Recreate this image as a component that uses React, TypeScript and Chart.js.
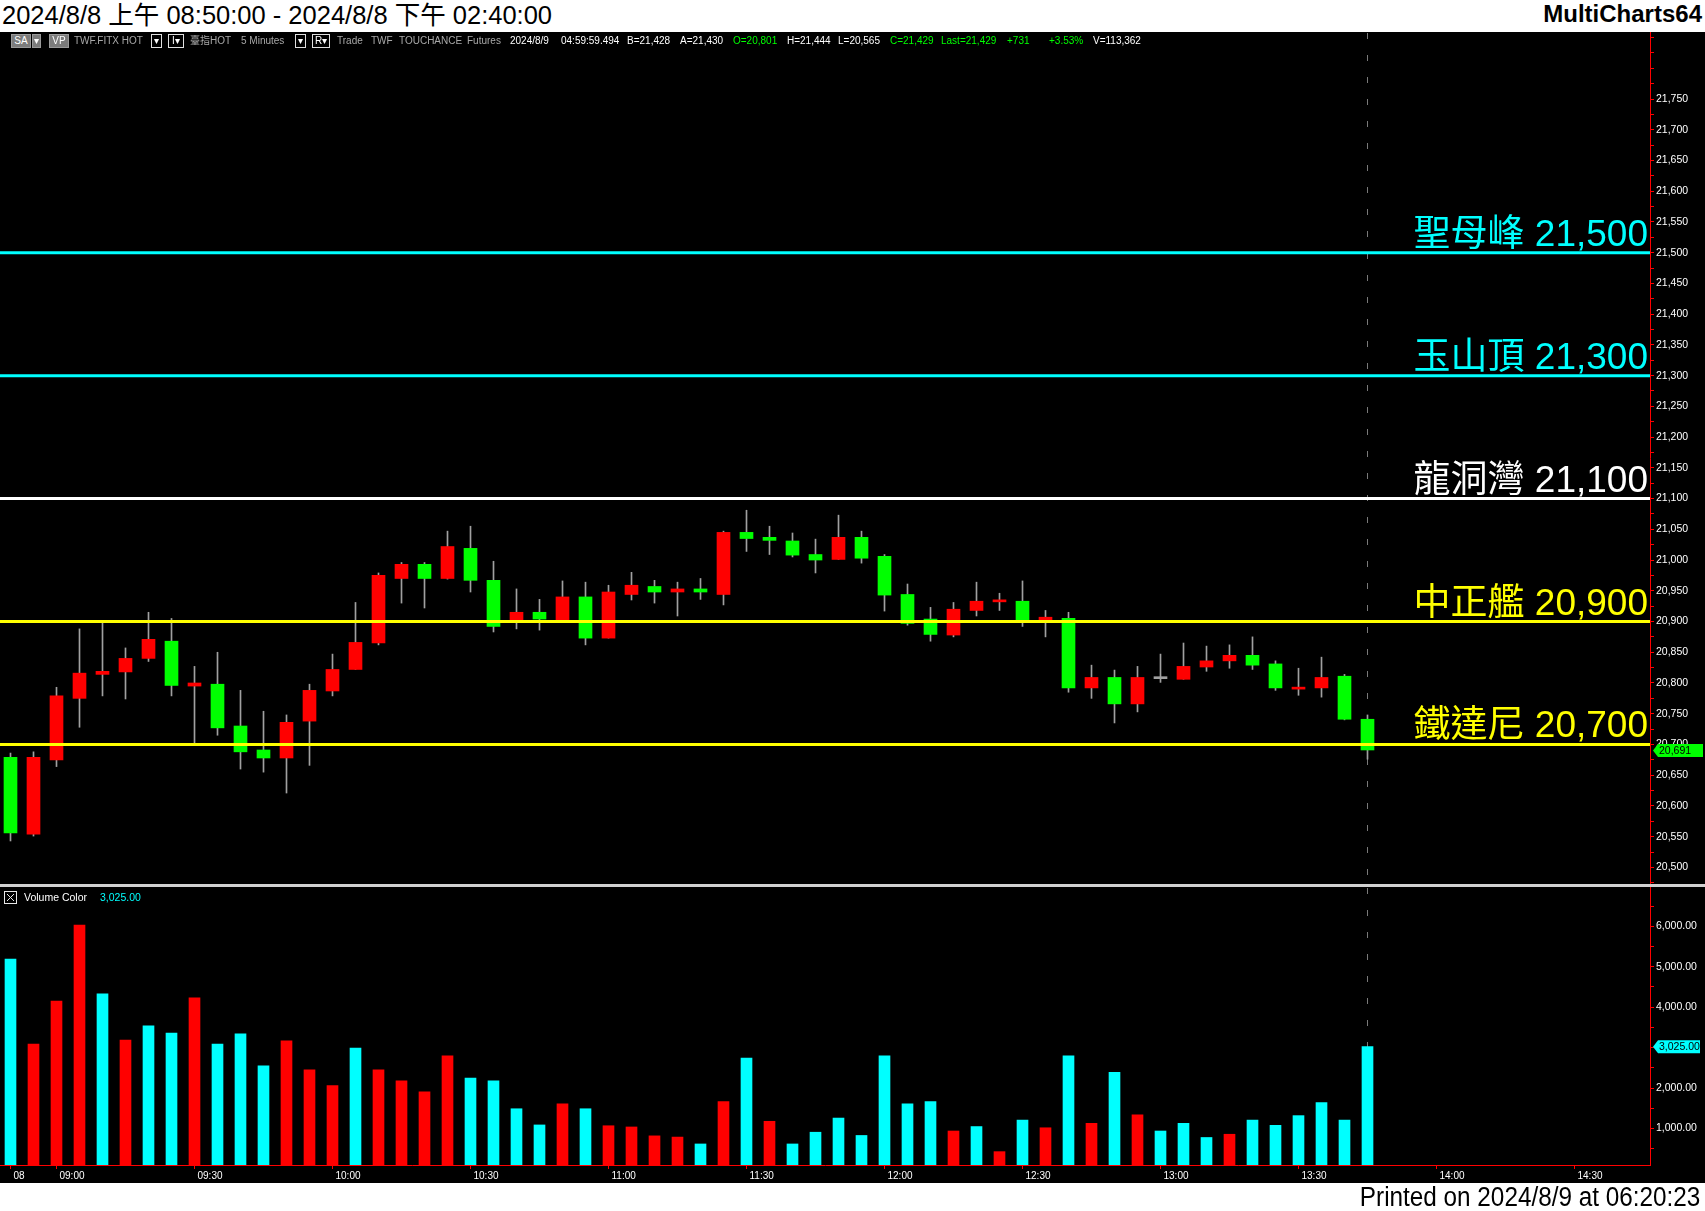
import React, { useEffect, useRef } from 'react';
import { Chart, registerables } from 'chart.js';
Chart.register(...registerables);

// ---------------- data ----------------
const opens = [20679, 20554, 20675, 20775, 20814, 20818, 20840, 20868, 20795, 20798, 20730, 20691, 20678, 20738, 20787, 20822, 20865, 20970, 20993, 20970, 21019, 20967, 20902, 20915, 20902, 20940, 20873, 20944, 20957, 20948, 20953, 20944, 21045, 21037, 21031, 21009, 21001, 21037, 21006, 20944, 20904, 20878, 20918, 20932, 20933, 20902, 20905, 20792, 20809, 20766, 20807, 20806, 20826, 20836, 20845, 20831, 20790, 20792, 20811, 20741];
const highs = [20686, 20688, 20793, 20888, 20898, 20857, 20915, 20905, 20827, 20850, 20788, 20754, 20748, 20798, 20847, 20931, 20979, 20996, 20996, 21047, 21055, 20998, 20953, 20936, 20966, 20964, 20959, 20980, 20967, 20964, 20970, 21047, 21081, 21055, 21044, 21034, 21073, 21047, 21009, 20961, 20923, 20931, 20964, 20946, 20966, 20918, 20915, 20829, 20821, 20827, 20847, 20865, 20860, 20862, 20875, 20836, 20824, 20842, 20814, 20748];
const lows = [20543, 20551, 20664, 20728, 20779, 20774, 20835, 20779, 20702, 20715, 20660, 20655, 20621, 20666, 20779, 20822, 20862, 20930, 20922, 20969, 20948, 20883, 20888, 20886, 20902, 20862, 20873, 20935, 20930, 20909, 20936, 20927, 21014, 21009, 21005, 20979, 21001, 20995, 20917, 20894, 20868, 20875, 20909, 20918, 20892, 20875, 20785, 20775, 20735, 20753, 20801, 20806, 20819, 20824, 20822, 20788, 20780, 20777, 20740, 20676];
const closes = [20556, 20679, 20779, 20816, 20819, 20840, 20871, 20796, 20800, 20727, 20688, 20678, 20736, 20788, 20822, 20866, 20975, 20993, 20970, 21022, 20967, 20892, 20915, 20904, 20940, 20873, 20948, 20959, 20948, 20953, 20948, 21045, 21035, 21032, 21008, 21000, 21037, 21003, 20943, 20897, 20879, 20920, 20933, 20933, 20901, 20907, 20792, 20809, 20766, 20809, 20807, 20827, 20836, 20845, 20829, 20792, 20793, 20809, 20741, 20691];
const volumes = [5190, 3090, 4150, 6030, 4330, 3190, 3540, 3360, 4230, 3090, 3340, 2550, 3170, 2450, 2060, 2990, 2450, 2180, 1910, 2800, 2250, 2180, 1490, 1090, 1610, 1490, 1070, 1040, 820, 790, 620, 1670, 2740, 1180, 620, 910, 1260, 830, 2800, 1610, 1670, 940, 1050, 430, 1210, 1020, 2800, 1130, 2390, 1340, 940, 1130, 780, 860, 1210, 1080, 1320, 1640, 1210, 3025];
// 1 = up-volume (red), -1 = down-volume (cyan)
const volumeDir = [-1, 1, 1, 1, -1, 1, -1, -1, 1, -1, -1, -1, 1, 1, 1, -1, 1, 1, 1, 1, -1, -1, -1, -1, 1, -1, 1, 1, 1, 1, -1, 1, -1, 1, -1, -1, -1, -1, -1, -1, -1, 1, -1, 1, -1, 1, -1, 1, -1, 1, -1, -1, -1, 1, -1, -1, -1, -1, -1, -1];

const levelValues = [21500, 21300, 21100, 20900, 20700];
const levelNames = ['聖母峰', '玉山頂', '龍洞灣', '中正艦', '鐵達尼'];

const volTicks = [500, 1000, 1500, 2000, 2500, 3000, 3500, 4000, 4500, 5000, 5500, 6000, 6500];
const volLabelTicks = [1000, 2000, 3000, 4000, 5000, 6000];

const xTickIdx = [0, 2, 8, 14, 20, 26, 32, 38, 44, 50, 56, 62, 68];
const xTickLabels = ['08', '09:00', '09:30', '10:00', '10:30', '11:00', '11:30', '12:00', '12:30', '13:00', '13:30', '14:00', '14:30'];

const titleText = '2024/8/8 上午 08:50:00 - 2024/8/8 下午 02:40:00';
const printedText = 'Printed on 2024/8/9 at 06:20:23';

// ---------------- style ----------------
const RED = '#ff0000';
const GREEN = '#00ff00';
const CYAN = '#00ffff';
const YELLOW = '#ffff00';
const WHITE = '#ffffff';
const WICK = '#a0a0a0';
const levelColors = [CYAN, CYAN, WHITE, YELLOW, YELLOW];
const FONT = '"Liberation Sans", Arial, "Noto Sans CJK TC", sans-serif';

const X_MIN = -0.4565;
const X_MAX = X_MIN + 1650 / 23;
const P_MIN = 20473;
const P_MAX = 21859;
const V_MIN = 100;
const V_MAX = 6970;
const LAST = closes.length - 1;

const fmtInt = (v: number) => v.toLocaleString('en-US');
const fmt2 = (v: number) => v.toLocaleString('en-US', { minimumFractionDigits: 2, maximumFractionDigits: 2 });

function drawTag(ctx: CanvasRenderingContext2D, x: number, y: number, w: number, h: number, color: string, text: string) {
  ctx.save();
  ctx.fillStyle = color;
  ctx.beginPath();
  ctx.moveTo(x, y);
  ctx.lineTo(x + 5, y - h / 2);
  ctx.lineTo(x + w, y - h / 2);
  ctx.lineTo(x + w, y + h / 2);
  ctx.lineTo(x + 5, y + h / 2);
  ctx.closePath();
  ctx.fill();
  ctx.fillStyle = '#000';
  ctx.font = `10.5px ${FONT}`;
  ctx.textBaseline = 'middle';
  ctx.textAlign = 'left';
  ctx.fillText(text, x + 6, y + 0.5);
  ctx.restore();
}

const dashPlugin = {
  id: 'lastDash',
  beforeDatasetsDraw(chart: any) {
    const ctx = chart.ctx;
    const x = Math.round(chart.scales.x.getPixelForValue(LAST)) + 0.5;
    ctx.save();
    ctx.strokeStyle = '#7a7a7a';
    ctx.lineWidth = 1;
    ctx.setLineDash([6, 16]);
    ctx.beginPath();
    ctx.moveTo(x, 1);
    ctx.lineTo(x, chart.chartArea.bottom);
    ctx.stroke();
    ctx.restore();
  },
};

const levelLabelPlugin = {
  id: 'levelLabels',
  afterDatasetsDraw(chart: any) {
    const ctx = chart.ctx;
    const ys = chart.scales.y;
    ctx.save();
    ctx.font = `37px ${FONT}`;
    ctx.textAlign = 'right';
    ctx.textBaseline = 'alphabetic';
    levelValues.forEach((v, i) => {
      const y = ys.getPixelForValue(v);
      ctx.fillStyle = levelColors[i];
      ctx.fillText(`${levelNames[i]} ${fmtInt(v)}`, chart.chartArea.right - 2, y - 7);
    });
    ctx.restore();
  },
};

const priceTagPlugin = {
  id: 'priceTag',
  afterDraw(chart: any) {
    const y = chart.scales.y.getPixelForValue(closes[LAST]);
    drawTag(chart.ctx, chart.chartArea.right + 3, y + 0.5, 50, 13, GREEN, fmtInt(closes[LAST]));
  },
};

const volTagPlugin = {
  id: 'volTag',
  afterDraw(chart: any) {
    const y = chart.scales.y.getPixelForValue(volumes[LAST]);
    drawTag(chart.ctx, chart.chartArea.right + 3, y, 47, 13, CYAN, fmt2(volumes[LAST]));
  },
};

function priceConfig(): any {
  const idx = opens.map((_, i) => i);
  const bodyColors = idx.map((i) => (closes[i] > opens[i] ? RED : closes[i] < opens[i] ? GREEN : WICK));
  const levelSets = levelValues.map((v, i) => ({
    type: 'line',
    data: [{ x: X_MIN, y: v }, { x: X_MAX, y: v }],
    borderColor: levelColors[i],
    borderWidth: 3,
    pointRadius: 0,
    fill: false,
    order: 0,
  }));
  return {
    type: 'bar',
    data: {
      datasets: [
        {
          type: 'bar',
          data: idx.map((i) => ({ x: i, y: [lows[i], highs[i]] })),
          backgroundColor: WICK,
          barThickness: 1,
          grouped: false,
          order: 2,
        },
        {
          type: 'bar',
          data: idx.map((i) => ({ x: i, y: [opens[i], closes[i]] })),
          backgroundColor: bodyColors,
          barThickness: 13,
          minBarLength: 2,
          grouped: false,
          order: 1,
        },
        ...levelSets,
      ],
    },
    options: {
      animation: false,
      responsive: false,
      devicePixelRatio: 1,
      layout: { padding: 0 },
      plugins: { legend: { display: false }, tooltip: { enabled: false } },
      scales: {
        x: { type: 'linear', min: X_MIN, max: X_MAX, display: false, offset: false, grid: { offset: false } },
        y: {
          type: 'linear',
          position: 'right',
          min: P_MIN,
          max: P_MAX,
          afterFit: (s: any) => { s.width = 55; s.paddingTop = 0; s.paddingBottom = 0; },
          ticks: {
            stepSize: 25,
            includeBounds: false,
            maxTicksLimit: 1000,
            autoSkip: false,
            color: WHITE,
            padding: 2,
            font: { size: 10.5, family: FONT },
            callback: (v: number) => (v % 50 === 0 && v <= 21750 ? fmtInt(v) : ''),
          },
          grid: { drawOnChartArea: false, tickLength: 4, tickColor: RED, tickWidth: 1 },
          border: { color: RED, width: 1 },
        },
      },
    },
    plugins: [dashPlugin, levelLabelPlugin, priceTagPlugin],
  };
}

function volConfig(): any {
  const idx = volumes.map((_, i) => i);
  return {
    type: 'bar',
    data: {
      datasets: [
        {
          data: idx.map((i) => ({ x: i, y: volumes[i] })),
          backgroundColor: idx.map((i) => (volumeDir[i] > 0 ? RED : CYAN)),
          barThickness: 11,
          grouped: false,
        },
      ],
    },
    options: {
      animation: false,
      responsive: false,
      devicePixelRatio: 1,
      layout: { padding: 0 },
      plugins: { legend: { display: false }, tooltip: { enabled: false } },
      scales: {
        x: {
          type: 'linear',
          min: X_MIN,
          max: X_MAX,
          position: 'bottom',
          offset: false,
          afterFit: (s: any) => { s.height = 18; s.paddingLeft = 0; s.paddingRight = 0; },
          afterBuildTicks: (s: any) => { s.ticks = xTickIdx.map((v) => ({ value: v })); },
          ticks: {
            autoSkip: false,
            maxRotation: 0,
            minRotation: 0,
            align: 'start',
            labelOffset: 3,
            padding: 1,
            color: WHITE,
            font: { size: 10, family: FONT },
            callback: (v: number) => {
              const k = xTickIdx.indexOf(v);
              return k >= 0 ? xTickLabels[k] : '';
            },
          },
          grid: { drawOnChartArea: false, offset: false, tickLength: 4, tickColor: RED },
          border: { color: RED, width: 1 },
        },
        y: {
          type: 'linear',
          position: 'right',
          min: V_MIN,
          max: V_MAX,
          afterFit: (s: any) => { s.width = 55; s.paddingTop = 0; s.paddingBottom = 0; },
          afterBuildTicks: (s: any) => { s.ticks = volTicks.map((v) => ({ value: v })); },
          ticks: {
            autoSkip: false,
            color: WHITE,
            padding: 2,
            font: { size: 10.5, family: FONT },
            callback: (v: number) => (volLabelTicks.indexOf(v) >= 0 ? fmt2(v) : ''),
          },
          grid: { drawOnChartArea: false, tickLength: 4, tickColor: RED },
          border: { color: RED, width: 1 },
        },
      },
    },
    plugins: [dashPlugin, volTagPlugin],
  };
}

type Item = { t: string; x: number; c?: string; box?: 'gray' | 'outline'; w?: number };
const statusItems: Item[] = [
  { t: 'SA', x: 11, box: 'gray', w: 20 },
  { t: '▾', x: 32, box: 'gray', w: 9 },
  { t: 'VP', x: 49, box: 'gray', w: 20 },
  { t: 'TWF.FITX HOT', x: 74, c: '#a8a8a8' },
  { t: '▾', x: 151, box: 'outline', w: 11 },
  { t: 'I▾', x: 168, box: 'outline', w: 16 },
  { t: '臺指HOT', x: 190, c: '#a8a8a8' },
  { t: '5 Minutes', x: 241, c: '#a8a8a8' },
  { t: '▾', x: 295, box: 'outline', w: 11 },
  { t: 'R▾', x: 312, box: 'outline', w: 18 },
  { t: 'Trade', x: 337, c: '#a8a8a8' },
  { t: 'TWF', x: 371, c: '#a8a8a8' },
  { t: 'TOUCHANCE', x: 399, c: '#a8a8a8' },
  { t: 'Futures', x: 467, c: '#a8a8a8' },
  { t: '2024/8/9', x: 510, c: WHITE },
  { t: '04:59:59.494', x: 561, c: WHITE },
  { t: 'B=21,428', x: 627, c: WHITE },
  { t: 'A=21,430', x: 680, c: WHITE },
  { t: 'O=20,801', x: 733, c: GREEN },
  { t: 'H=21,444', x: 787, c: WHITE },
  { t: 'L=20,565', x: 838, c: WHITE },
  { t: 'C=21,429', x: 890, c: GREEN },
  { t: 'Last=21,429', x: 941, c: GREEN },
  { t: '+731', x: 1007, c: GREEN },
  { t: '+3.53%', x: 1049, c: GREEN },
  { t: 'V=113,362', x: 1093, c: WHITE },
];

export default function App() {
  const priceRef = useRef<HTMLCanvasElement>(null);
  const volRef = useRef<HTMLCanvasElement>(null);

  useEffect(() => {
    document.body.style.margin = '0';
    const pc = new Chart(priceRef.current as HTMLCanvasElement, priceConfig());
    const vc = new Chart(volRef.current as HTMLCanvasElement, volConfig());
    return () => {
      pc.destroy();
      vc.destroy();
    };
  }, []);

  return (
    <div style={{ position: 'absolute', left: 0, top: 0, width: 1705, height: 1211, background: '#fff', overflow: 'hidden', fontFamily: FONT }}>
      <div style={{ position: 'absolute', left: 2, top: -1.5, height: 32, lineHeight: '32px', fontSize: 25.5, color: '#000', whiteSpace: 'nowrap' }}>
        {titleText}
      </div>
      <div style={{ position: 'absolute', right: 3, top: -2, height: 32, lineHeight: '32px', fontSize: 24, fontWeight: 'bold', color: '#000', whiteSpace: 'nowrap' }}>
        MultiCharts64
      </div>
      <div style={{ position: 'absolute', left: 0, top: 32, width: 1705, height: 1151, background: '#000' }} />
      <canvas ref={priceRef} width={1705} height={852} style={{ position: 'absolute', left: 0, top: 32, width: 1705, height: 852 }} />
      <div style={{ position: 'absolute', left: 0, top: 884, width: 1705, height: 3, background: '#d0d0d0' }} />
      <canvas ref={volRef} width={1705} height={296} style={{ position: 'absolute', left: 0, top: 887, width: 1705, height: 296 }} />
      {statusItems.map((it, i) =>
        it.box ? (
          <div
            key={i}
            style={{
              position: 'absolute', left: it.x, top: 34, width: it.w, height: 14, boxSizing: 'border-box',
              background: it.box === 'gray' ? '#7c7c7c' : '#000', border: it.box === 'gray' ? '1px solid #9a9a9a' : '1px solid #e0e0e0',
              color: WHITE, fontSize: 10, lineHeight: '12px', textAlign: 'center', whiteSpace: 'nowrap', overflow: 'hidden',
            }}
          >
            {it.t}
          </div>
        ) : (
          <div key={i} style={{ position: 'absolute', left: it.x, top: 33, height: 16, lineHeight: '16px', fontSize: 10, color: it.c, whiteSpace: 'nowrap' }}>
            {it.t}
          </div>
        )
      )}
      <svg style={{ position: 'absolute', left: 4, top: 891 }} width={13} height={13}>
        <rect x={0.5} y={0.5} width={12} height={12} fill="#000" stroke="#e8e8e8" />
        <line x1={3} y1={3} x2={10} y2={10} stroke="#e8e8e8" />
        <line x1={10} y1={3} x2={3} y2={10} stroke="#e8e8e8" />
      </svg>
      <div style={{ position: 'absolute', left: 24, top: 889, height: 16, lineHeight: '16px', fontSize: 10.5, color: WHITE, whiteSpace: 'nowrap' }}>Volume Color</div>
      <div style={{ position: 'absolute', left: 100, top: 889, height: 16, lineHeight: '16px', fontSize: 10.5, color: CYAN, whiteSpace: 'nowrap' }}>{fmt2(volumes[LAST])}</div>
      <div
        style={{
          position: 'absolute', right: 5, top: 1182, height: 30, lineHeight: '30px', fontSize: 27, color: '#000', whiteSpace: 'nowrap',
          transform: 'scaleX(0.9)', transformOrigin: 'right center',
        }}
      >
        {printedText}
      </div>
    </div>
  );
}
